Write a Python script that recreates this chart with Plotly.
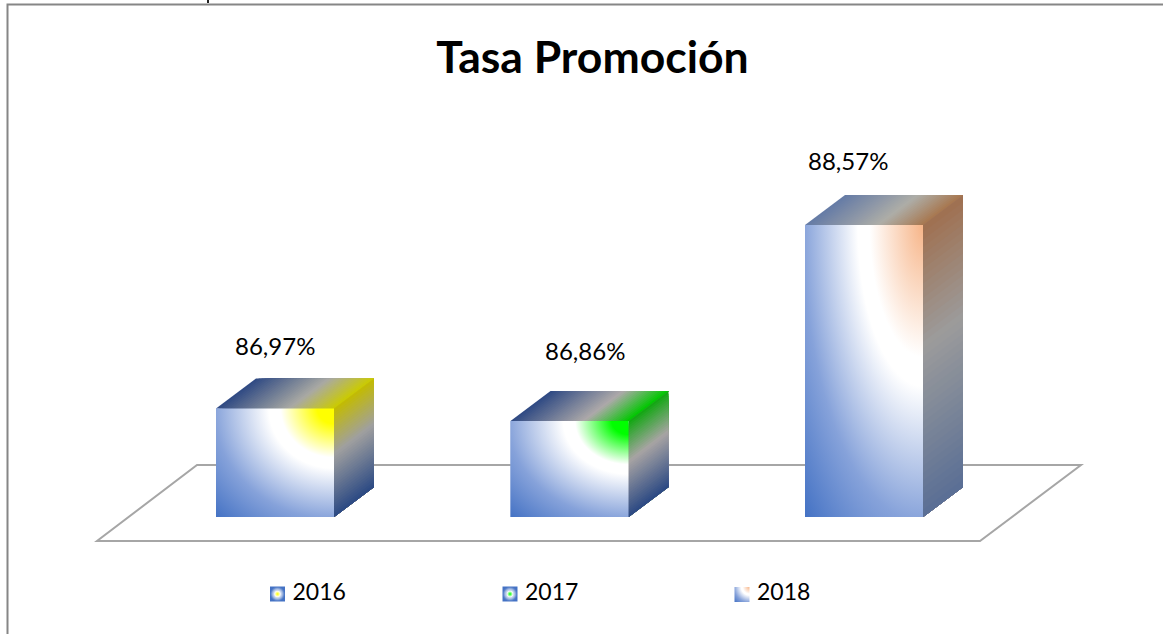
import plotly.graph_objects as go

CATEGORIES = ["2016", "2017", "2018"]
VALUES = [86.97, 86.86, 88.57]
LABELS = ["86,97%", "86,86%", "88,57%"]
ACCENTS = ["#ffff00", "#00ff00", "#f7b78c"]
ACCENT_HOLD = [0.1, 0.1, 0.01]
SIDE_TOPS = ["#c4bc00", "#10a810", "#a07050"]
SIDE_MIDS = ["#a0a0a0", "#a8a4a4", "#9c9c9c"]
SIDE_BOTTOMS = ["#2c4a84", "#2c4a84", "#5a6f95"]
TOP_LEFTS = ["#2f4a84", "#2f4a84", "#657ba6"]
TOP_MIDS = ["#aaaaa4", "#aeaaaa", "#aeaea8"]
TOP_RIGHTS = ["#cccc00", "#00c800", "#a87850"]
LABEL_XSHIFT = [0, 15, -16]
LABEL_YSHIFT = [63, 71, 65]
LEGEND_X = [277.5, 510, 742]

W, H = 1163, 634
BOTTOM = 517
PX_PER_UNIT = 114.6
PX_PER_CAT = 294.5
V0 = 86.86 - (BOTTOM - 421) / PX_PER_UNIT
BAR_W = 118 / PX_PER_CAT
DX = 40 / PX_PER_CAT
DY = 30 / PX_PER_UNIT
STRIPS = 40


def hx(c):
    return tuple(int(c[i:i + 2], 16) for i in (1, 3, 5))


def ramp(stops, t):
    for (a, ca), (b, cb) in zip(stops, stops[1:]):
        if t <= b:
            f = (t - a) / (b - a)
            x, y = hx(ca), hx(cb)
            return "rgb(%d,%d,%d)" % tuple(x[i] + (y[i] - x[i]) * f for i in range(3))
    return stops[-1][1]


def py(p):
    return (H - p) / H


def px(p):
    return p / W


def glow_scale(accent, hold):
    return [[0, accent], [hold, accent], [0.32, "#ffffff"], [0.39, "#ffffff"], [0.72, "#86a2da"], [1, "#4472c4"]]


def corner_glow(l, r, bot, top, scale, yaxis="y"):
    """Rectangle whose radial gradient is centred on its upper right corner."""
    a = (r - l) * 1.414
    b = (top - bot) * 1.414
    return go.Scatter(
        x=[r, r + a, r, r, r, l, r - a, l, l, r, r, r],
        y=[top, top, top, top + b, top, top, top, top, bot, bot, top - b, top],
        yaxis=yaxis, mode="lines", line=dict(width=0, simplify=False), fill="toself",
        fillgradient=dict(type="radial", colorscale=scale),
        showlegend=False, hoverinfo="skip")


fig = go.Figure()
fig.add_trace(go.Bar(x=[0, 1, 2], y=VALUES, width=BAR_W, marker=dict(color="#8faadc", line=dict(width=0)),
                     showlegend=False, hoverinfo="skip"))

for i, v in enumerate(VALUES):
    l, r = i - BAR_W / 2, i + BAR_W / 2
    # top face: painter's strips, slanted with the depth direction
    stops = [(0, TOP_LEFTS[i]), (0.62, TOP_MIDS[i]), (1, TOP_RIGHTS[i])]
    for k in range(STRIPS):
        a = l + (r - l) * k / STRIPS
        fig.add_trace(go.Scatter(
            x=[a, r, r + DX, a + DX, a], y=[v, v, v + DY, v + DY, v], mode="lines", line=dict(width=0),
            fill="toself", fillcolor=ramp(stops, (k + .5) / STRIPS), showlegend=False, hoverinfo="skip"))
    # side face
    stops = [(0, SIDE_TOPS[i]), (0.42, SIDE_MIDS[i]), (1, SIDE_BOTTOMS[i])]
    for k in range(STRIPS):
        t = V0 + (v - V0) * (1 - k / STRIPS)
        fig.add_trace(go.Scatter(
            x=[r, r + DX, r + DX, r, r], y=[t, t + DY, V0 + DY, V0, t], mode="lines", line=dict(width=0),
            fill="toself", fillcolor=ramp(stops, (k + .5) / STRIPS), showlegend=False, hoverinfo="skip"))
    # front face: radial gradient centred on the upper right corner
    fig.add_trace(corner_glow(l, r, V0, v, glow_scale(ACCENTS[i], ACCENT_HOLD[i])))

# legend, on its own strip below the plot
leg_x = [(p - 275) / PX_PER_CAT for p in LEGEND_X]
leg_y = [594, 594, 594]
half = 7.5 / PX_PER_CAT
fig.add_trace(go.Scatter(
    x=leg_x[:2], y=leg_y[:2], yaxis="y2", mode="markers",
    marker=dict(symbol="square", size=15, color="#4472c4", line=dict(width=0),
                gradient=dict(type="radial", color="#ffffff")),
    showlegend=False, hoverinfo="skip"))
fig.add_trace(go.Scatter(
    x=leg_x[:2], y=leg_y[:2], yaxis="y2", mode="markers",
    marker=dict(symbol="circle", size=13, color="rgba(255,255,255,0)", line=dict(width=0),
                gradient=dict(type="radial", color="#ffffff")),
    showlegend=False, hoverinfo="skip"))
fig.add_trace(go.Scatter(
    x=leg_x[:2], y=leg_y[:2], yaxis="y2", mode="markers",
    marker=dict(symbol="circle", size=6, color="#ffffff", line=dict(width=0),
                gradient=dict(type="radial", color=ACCENTS[:2])),
    showlegend=False, hoverinfo="skip"))
fig.add_trace(corner_glow(leg_x[2] - half, leg_x[2] + half, 602, 587, glow_scale(ACCENTS[2], ACCENT_HOLD[2]), "y2"))
fig.add_trace(go.Scatter(
    x=[p + 15 / PX_PER_CAT for p in leg_x], y=leg_y, yaxis="y2", mode="text", text=CATEGORIES,
    textposition="middle right", textfont=dict(family="Lato", size=23, color="#000000"),
    showlegend=False, hoverinfo="skip"))

annotations = [dict(x=i, y=v, text=t, showarrow=False, xshift=LABEL_XSHIFT[i], yshift=LABEL_YSHIFT[i],
                    font=dict(family="Lato", size=24, color="#000000"))
               for i, (v, t) in enumerate(zip(VALUES, LABELS))]

floor = "M %f %f L %f %f L %f %f L %f %f Z" % (px(97), py(541), px(980), py(541), px(1081), py(465), px(197), py(465))
frame = "M %f %f L %f %f L %f %f" % (px(7.5), py(640), px(7.5), py(4.5), px(1170), py(4.5))
fig.update_layout(
    width=W, height=H, margin=dict(l=0, r=0, t=0, b=0, autoexpand=False),
    paper_bgcolor="#ffffff", plot_bgcolor="rgba(0,0,0,0)", showlegend=False,
    title=dict(text="<b>Tasa Promoción</b>", x=592.5 / W, y=(H - 57.5) / H, xanchor="center", yanchor="middle",
               font=dict(family="Lato", size=44.5, color="#000000")),
    xaxis=dict(range=[-275 / PX_PER_CAT, (W - 275) / PX_PER_CAT], visible=False),
    yaxis=dict(domain=[(H - BOTTOM) / H, 1], range=[V0, V0 + BOTTOM / PX_PER_UNIT], visible=False),
    yaxis2=dict(domain=[0, (H - BOTTOM) / H], range=[H, BOTTOM], visible=False, anchor="x"),
    annotations=annotations,
    shapes=[dict(type="path", xref="paper", yref="paper", path=floor, layer="below", line=dict(color="#a6a6a6", width=2)),
            dict(type="path", xref="paper", yref="paper", path=frame, layer="below", line=dict(color="#868686", width=2)),
            dict(type="rect", xref="paper", yref="paper", x0=px(207), x1=px(209), y0=py(3), y1=py(0),
                 fillcolor="#222222", line=dict(width=0))],
)
fig.write_html("out.html", config=dict(displayModeBar=False),
               post_script="document.body.style.margin='0';document.body.style.overflow='hidden';")
